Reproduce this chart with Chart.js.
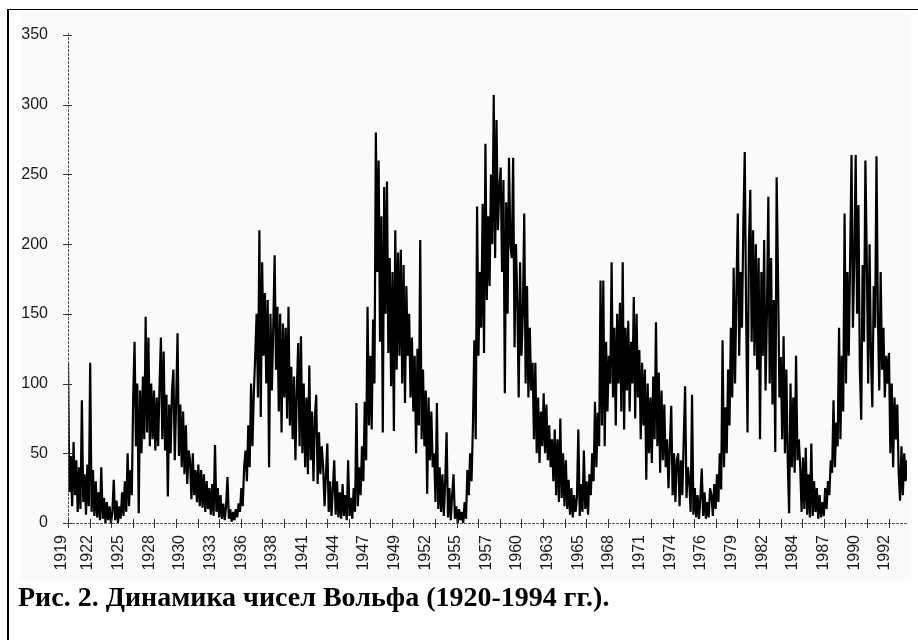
<!DOCTYPE html>
<html>
<head>
<meta charset="utf-8">
<script src="https://cdn.jsdelivr.net/npm/chart.js@4.4.1/dist/chart.umd.min.js"></script>
<style>
body { margin: 0; background: #fff; width: 918px; height: 640px; position: relative; overflow: hidden; }
#frame { position: absolute; left: 7px; top: 9px; width: 911px; height: 631px; border-left: 2px solid #000; border-top: 1px solid #000; }
#scan { position: absolute; left: 21px; top: 12px; width: 890px; height: 568px; background: #fafafa; }
#box { position: absolute; left: 0; top: 0; }
#caption { position: absolute; left: 18px; top: 581px; font: bold 28px "Liberation Serif", "Times New Roman", serif; color: #000; white-space: nowrap; }
</style>
</head>
<body>
<div id="frame"></div>
<div id="scan"></div>
<div id="box"><canvas id="chart" width="918" height="590"></canvas></div>
<div id="caption">Рис. 2. Динамика чисел Вольфа (1920-1994 гг.).</div>
<script>
// Wolf numbers, 8 readings per year starting 1919
var startYear = 1919;
var perYear = 8;
var wolf = [
  115, 22, 48, 12, 58, 20, 45, 8,        // 1919
  40, 10, 88, 15, 35, 6, 42, 12,         // 1920
  115, 8, 38, 5, 30, 4, 22, 2,           // 1921
  40, 3, 18, 0, 15, 2, 12, 0,            // 1922
  8, 31, 2, 16, 0, 12, 3, 22,            // 1923
  5, 30, 8, 50, 12, 38, 20, 90,          // 1924
  130, 55, 100, 7, 95, 50, 105, 60,      // 1925
  148, 65, 133, 55, 100, 60, 95, 52,     // 1926
  90, 55, 98, 133, 60, 123, 52, 92,      // 1927
  19, 85, 50, 95, 110, 45, 88, 136,      // 1928
  48, 85, 40, 80, 35, 70, 28, 52,        // 1929
  45, 17, 50, 20, 38, 15, 42, 12,        // 1930
  38, 11, 35, 8, 30, 10, 25, 6,          // 1931
  28, 5, 56, 8, 25, 4, 20, 3,            // 1932
  14, 2, 12, 33, 3, 10, 1, 8,            // 1933
  2, 10, 4, 14, 8, 25, 12, 40,           // 1934
  52, 30, 70, 40, 100, 55, 93, 120,      // 1935
  150, 90, 210, 76, 187, 120, 165, 100,  // 1936
  160, 40, 150, 95, 140, 192, 110, 155,  // 1937
  80, 150, 65, 143, 90, 140, 75, 155,    // 1938
  70, 112, 60, 105, 45, 95, 129, 55,     // 1939
  134, 50, 100, 40, 90, 35, 113, 45,     // 1940
  80, 30, 75, 92, 28, 65, 35, 55,        // 1941
  40, 12, 35, 57, 8, 30, 5, 25,          // 1942
  45, 6, 30, 4, 22, 3, 28, 5,            // 1943
  20, 2, 45, 5, 18, 3, 25, 8,            // 1944
  86, 12, 40, 20, 55, 30, 87, 45,        // 1945
  155, 70, 120, 67, 146, 100, 280, 180,  // 1946
  260, 130, 220, 65, 241, 150, 245, 122, // 1947
  190, 98, 180, 66, 210, 110, 194, 120,  // 1948
  196, 100, 185, 86, 170, 120, 150, 90,  // 1949
  133, 80, 120, 50, 125, 70, 203, 60,    // 1950
  110, 55, 95, 21, 90, 45, 80, 40,       // 1951
  50, 15, 86, 10, 40, 8, 35, 5,          // 1952
  30, 65, 4, 25, 2, 20, 35, 3,           // 1953
  12, 0, 10, 2, 8, 0, 15, 3,             // 1954
  38, 20, 50, 30, 70, 131, 60, 227,      // 1955
  120, 180, 140, 229, 122, 272, 160, 220, // 1956
  170, 250, 200, 307, 190, 289, 210, 240, // 1957
  255, 180, 246, 93, 230, 150, 262, 200, // 1958
  190, 262, 126, 200, 160, 90, 187, 120, // 1959
  150, 222, 100, 170, 90, 140, 95, 115,  // 1960
  60, 115, 50, 90, 43, 80, 55, 93,       // 1961
  50, 85, 45, 70, 40, 60, 30, 67,        // 1962
  20, 60, 15, 75, 18, 50, 12, 45,        // 1963
  10, 31, 6, 25, 4, 20, 8, 18,           // 1964
  67, 5, 28, 8, 52, 10, 30, 6,           // 1965
  35, 20, 50, 30, 87, 40, 79, 55,        // 1966
  174, 70, 174, 55, 130, 80, 120, 100,   // 1967
  187, 90, 140, 70, 150, 100, 158, 80,   // 1968
  187, 67, 140, 95, 145, 80, 130, 100,   // 1969
  162, 75, 150, 90, 124, 60, 115, 70,    // 1970
  110, 31, 100, 50, 90, 43, 105, 60,     // 1971
  144, 55, 108, 36, 95, 45, 85, 40,      // 1972
  60, 25, 55, 84, 20, 50, 15, 45,        // 1973
  50, 12, 45, 20, 60, 98, 18, 40,        // 1974
  30, 8, 92, 6, 25, 4, 20, 3,            // 1975
  18, 39, 5, 22, 3, 15, 4, 25,           // 1976
  20, 5, 28, 10, 35, 15, 50, 24,         // 1977
  131, 40, 83, 50, 110, 70, 140, 90,     // 1978
  183, 100, 167, 222, 120, 180, 140, 215, // 1979
  266, 150, 65, 200, 239, 130, 210, 120, // 1980
  200, 110, 190, 60, 180, 120, 203, 95,  // 1981
  150, 234, 100, 190, 85, 160, 51, 248,  // 1982
  176, 90, 119, 60, 134, 50, 110, 45,    // 1983
  7, 100, 40, 90, 36, 120, 45, 60,       // 1984
  40, 8, 47, 10, 54, 6, 35, 4,           // 1985
  57, 5, 30, 8, 25, 3, 20, 4,            // 1986
  15, 5, 25, 10, 30, 20, 45, 36,         // 1987
  88, 40, 72, 55, 140, 60, 120, 80,      // 1988
  222, 100, 180, 120, 191, 264, 140, 190, // 1989
  264, 150, 228, 110, 74, 185, 130, 260, // 1990
  190, 100, 200, 120, 83, 170, 140, 263, // 1991
  150, 95, 180, 110, 140, 90, 120, 100,  // 1992
  122, 50, 100, 40, 90, 60, 85, 36,      // 1993
  16, 55, 20, 50, 30, 45                 // 1994
];

// x tick labels as printed under the axis
var tickYears = [1919, 1922, 1925, 1928, 1930, 1933, 1936, 1938, 1941, 1944, 1947, 1949, 1952, 1955,
                 1957, 1960, 1963, 1965, 1968, 1971, 1974, 1976, 1979, 1982, 1984, 1987, 1990, 1992];
var yTicks = [0, 50, 100, 150, 200, 250, 300, 350];

var firstLabelAt = -4.3;   // in readings
var labelFrom = 14.4;
var labelEvery = 22.1;
var markEvery = 15.57;     // small tick marks on the x axis

var points = wolf.map(function (v, i) { return { x: i, y: v }; });

var axisMarks = {
    id: 'axisMarks',
    afterDatasetsDraw: function (chart) {
        var ctx = chart.ctx, a = chart.chartArea, x = chart.scales.x, y = chart.scales.y;
        ctx.save();
        ctx.strokeStyle = '#555';
        ctx.lineWidth = 1;
        ctx.setLineDash([3, 1]);
        ctx.beginPath();
        ctx.moveTo(a.left + 0.5, a.top - 2);
        ctx.lineTo(a.left + 0.5, a.bottom);
        ctx.moveTo(a.left, a.bottom + 0.5);
        ctx.lineTo(a.right, a.bottom + 0.5);
        ctx.stroke();
        ctx.setLineDash([]);
        ctx.strokeStyle = '#333';
        ctx.beginPath();
        yTicks.forEach(function (v) {
            var py = Math.round(y.getPixelForValue(v)) + 0.5;
            ctx.moveTo(a.left - 5, py);
            ctx.lineTo(a.left + 4, py);
        });
        for (var i = 0; i * markEvery <= x.max; i++) {
            var px = Math.round(x.getPixelForValue(i * markEvery)) + 0.5;
            ctx.moveTo(px, a.bottom - 4);
            ctx.lineTo(px, a.bottom + 5);
        }
        ctx.stroke();
        ctx.restore();
    }
};

var ctx = document.querySelector('#chart').getContext('2d');
var myChart = new Chart(ctx, {
    type: 'line',
    data: {
        datasets: [{
            data: points,
            borderColor: '#000',
            borderWidth: 2.2,
            borderJoinStyle: 'bevel',
            pointRadius: 0,
            tension: 0
        }]
    },
    options: {
        responsive: false,
        animation: false,
        layout: { padding: { top: 35, right: 11, left: 0, bottom: 0 } },
        plugins: { legend: { display: false }, tooltip: { enabled: false } },
        scales: {
            x: {
                type: 'linear',
                min: 0,
                max: wolf.length - 1,
                grid: { display: false, drawTicks: false },
                border: { display: false },
                afterBuildTicks: function (s) {
                    s.ticks = tickYears.map(function (yr, k) {
                        return { value: k === 0 ? firstLabelAt : labelFrom + (k - 1) * labelEvery };
                    });
                },
                afterFit: function (s) { s.height = 67; },
                ticks: {
                    autoSkip: false,
                    maxRotation: 90,
                    minRotation: 90,
                    padding: 12,
                    color: '#1a1a1a',
                    font: { family: 'Liberation Sans', size: 16 },
                    callback: function (v, i) { return tickYears[i]; }
                }
            },
            y: {
                min: 0,
                max: 350,
                grid: { display: false, drawTicks: false },
                border: { display: false },
                afterFit: function (s) { s.width = 68; },
                ticks: {
                    stepSize: 50,
                    padding: 20,
                    color: '#1a1a1a',
                    font: { family: 'Liberation Sans', size: 16 }
                }
            }
        }
    },
    plugins: [axisMarks]
});
</script>
</body>
</html>
